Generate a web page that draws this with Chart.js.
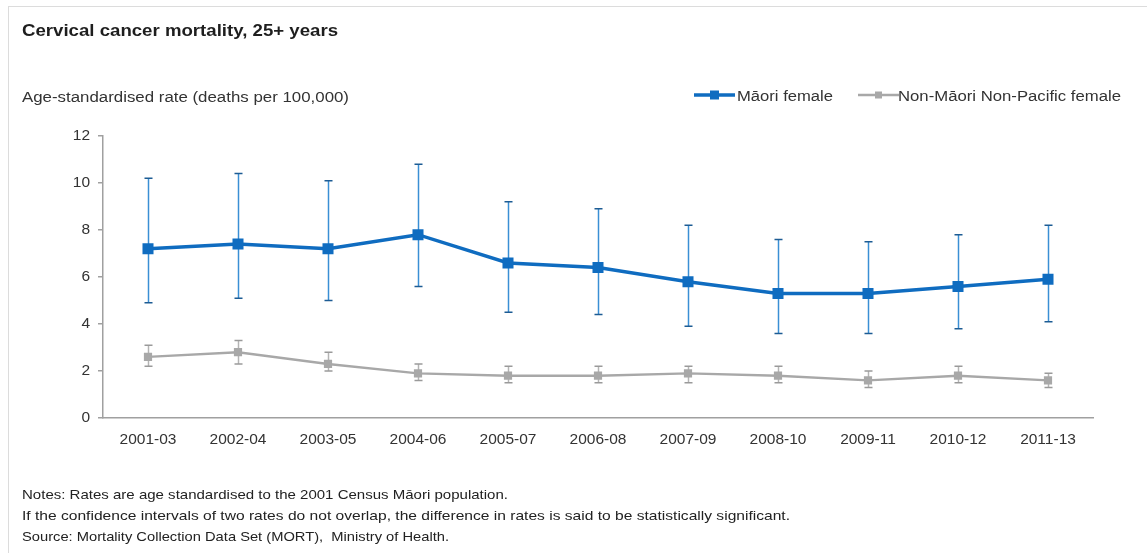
<!DOCTYPE html>
<html>
<head>
<meta charset="utf-8">
<script src="https://cdn.jsdelivr.net/npm/chart.js@4/dist/chart.umd.min.js"></script>
<style>
  html, body { margin: 0; padding: 0; background: #fff; }
  body { width: 1147px; height: 553px; position: relative; overflow: hidden; font-family: "Liberation Sans", Arial, sans-serif; }
  #frame { position: absolute; left: 8px; top: 6px; right: 0; bottom: 0; border-top: 1px solid #dcdcdc; border-left: 1px solid #dcdcdc; }
  #chart { position: absolute; left: 0; top: 0; }
  .txt { position: absolute; white-space: nowrap; color: #222; transform-origin: 0 50%; }
  #title { left: 22px; top: 22px; font-size: 16px; font-weight: bold; color: #1e1e1e; }
  #ytitle { left: 22px; top: 88px; font-size: 15.5px; color: #333; }
  .leg-line { position: absolute; }
  .leg-text { font-size: 15.5px; color: #333; top: 87px; }
  .note { left: 22px; font-size: 13px; color: #222; }
</style>
</head>
<body>
<div id="frame"></div>
<canvas id="chart" width="1147" height="553"></canvas>
<div class="txt" id="title" data-w="316">Cervical cancer mortality, 25+ years</div>
<div class="txt" id="ytitle" data-w="327">Age-standardised rate (deaths per 100,000)</div>
<div class="txt note" style="top:487px" data-w="486">Notes: Rates are age standardised to the 2001 Census Māori population.</div>
<div class="txt note" style="top:508px" data-w="768">If the confidence intervals of two rates do not overlap, the difference in rates is said to be statistically significant.</div>
<div class="txt note" style="top:529px" data-w="427">Source: Mortality Collection Data Set (MORT), &nbsp;Ministry of Health.</div>
<script>
// Three-year periods
const periods = ['2001-03', '2002-04', '2003-05', '2004-06', '2005-07', '2006-08',
                 '2007-09', '2008-10', '2009-11', '2010-12', '2011-13'];

// Māori female: rate with 95% confidence interval
const maoriRate  = [7.2, 7.4, 7.2, 7.8, 6.6, 6.4, 5.8, 5.3, 5.3, 5.6, 5.9];
const maoriLower = [4.9, 5.1, 5.0, 5.6, 4.5, 4.4, 3.9, 3.6, 3.6, 3.8, 4.1];
const maoriUpper = [10.2, 10.4, 10.1, 10.8, 9.2, 8.9, 8.2, 7.6, 7.5, 7.8, 8.2];

// Non-Māori Non-Pacific female: rate with 95% confidence interval
const otherRate  = [2.6, 2.8, 2.3, 1.9, 1.8, 1.8, 1.9, 1.8, 1.6, 1.8, 1.6];
const otherLower = [2.2, 2.3, 2.0, 1.6, 1.5, 1.5, 1.5, 1.5, 1.3, 1.5, 1.3];
const otherUpper = [3.1, 3.3, 2.8, 2.3, 2.2, 2.2, 2.2, 2.2, 2.0, 2.2, 1.9];

// Y axis range and step
const yMin = 0, yMax = 12, yStep = 2;

const BLUE = '#0f6cc0';
const GREY = '#a8a8a8';

// Draws confidence-interval whiskers from each dataset's lower/upper arrays
const errorBars = {
  id: 'errorBars',
  beforeDatasetsDraw(chart) {
    const ctx = chart.ctx;
    const yScale = chart.scales.y;
    chart.data.datasets.forEach((ds, i) => {
      const meta = chart.getDatasetMeta(i);
      if (meta.hidden) return;
      const eb = ds.errorBars;
      meta.data.forEach((pt, j) => {
        const x = Math.round(pt.x) + 0.5;
        const yl = yScale.getPixelForValue(eb.lower[j]);
        const yu = yScale.getPixelForValue(eb.upper[j]);
        ctx.save();
        ctx.lineWidth = 1.5;
        ctx.strokeStyle = eb.color;
        ctx.beginPath();
        ctx.moveTo(x, yu);
        ctx.lineTo(x, yl);
        ctx.stroke();
        ctx.strokeStyle = eb.capColor;
        ctx.beginPath();
        ctx.moveTo(x - eb.cap, yu); ctx.lineTo(x + eb.cap, yu);
        ctx.moveTo(x - eb.cap, yl); ctx.lineTo(x + eb.cap, yl);
        ctx.stroke();
        ctx.restore();
      });
    });
  }
};

const chart = new Chart(document.getElementById('chart'), {
  type: 'line',
  data: {
    labels: periods,
    datasets: [
      {
        label: 'Māori female',
        data: maoriRate,
        borderColor: BLUE,
        backgroundColor: BLUE,
        borderWidth: 3.5,
        pointStyle: 'rect',
        pointRadius: 7.8,
        pointBorderWidth: 0,
        tension: 0,
        errorBars: { lower: maoriLower, upper: maoriUpper, color: '#3a8fd4', capColor: '#1d5c94', cap: 4 }
      },
      {
        label: 'Non-Māori Non-Pacific female',
        data: otherRate,
        borderColor: GREY,
        backgroundColor: GREY,
        borderWidth: 2.4,
        pointStyle: 'rect',
        pointRadius: 5.8,
        pointBorderWidth: 0,
        tension: 0,
        errorBars: { lower: otherLower, upper: otherUpper, color: '#b4b4b4', capColor: '#9a9a9a', cap: 4 }
      }
    ]
  },
  options: {
    responsive: false,
    animation: false,
    layout: { padding: { top: 136, right: 54, bottom: 100, left: 0 } },
    plugins: {
      legend: { display: false },
      tooltip: { enabled: false }
    },
    scales: {
      x: {
        offset: true,
        grid: { display: false },
        border: { display: true, color: '#a0a0a0', width: 1.5 },
        ticks: { color: '#333', font: { family: 'Liberation Sans', size: 15.5 }, padding: 4, maxRotation: 0 },
        afterFit(s) { s.height = 35; }
      },
      y: {
        min: yMin, max: yMax,
        grid: { display: true, drawOnChartArea: false, drawTicks: true, tickLength: 5, color: '#a0a0a0', lineWidth: 1.5 },
        border: { display: true, color: '#a0a0a0', width: 1.5 },
        ticks: { stepSize: yStep, color: '#333', font: { family: 'Liberation Sans', size: 15.5 }, padding: 8 },
        afterFit(s) { s.width = 103; }
      }
    }
  },
  plugins: [errorBars]
});

// Legend built from the dataset styles: line with a square marker, then the label
const legendSlots = [
  { lineX: 694, textX: 737, textW: 96, marker: 9 },
  { lineX: 858, textX: 898, textW: 223, marker: 7 }
];
chart.data.datasets.forEach((ds, i) => {
  const slot = legendSlots[i];
  const c = document.createElement('canvas');
  c.className = 'leg-line';
  c.width = 41; c.height = 14;
  c.style.left = slot.lineX + 'px';
  c.style.top = '88px';
  const g = c.getContext('2d');
  g.strokeStyle = ds.borderColor;
  g.lineWidth = ds.borderWidth;
  g.beginPath(); g.moveTo(0, 7); g.lineTo(41, 7); g.stroke();
  g.fillStyle = ds.backgroundColor;
  g.fillRect(20.5 - slot.marker / 2, 7 - slot.marker / 2, slot.marker, slot.marker);
  document.body.appendChild(c);
  const t = document.createElement('div');
  t.className = 'txt leg-text';
  t.style.left = slot.textX + 'px';
  t.dataset.w = slot.textW;
  t.textContent = ds.label;
  document.body.appendChild(t);
});

// Stretch text blocks horizontally to their set widths
document.querySelectorAll('.txt[data-w]').forEach(el => {
  const w = el.getBoundingClientRect().width;
  el.style.transform = 'scaleX(' + (parseFloat(el.dataset.w) / w) + ')';
});
</script>
</body>
</html>
